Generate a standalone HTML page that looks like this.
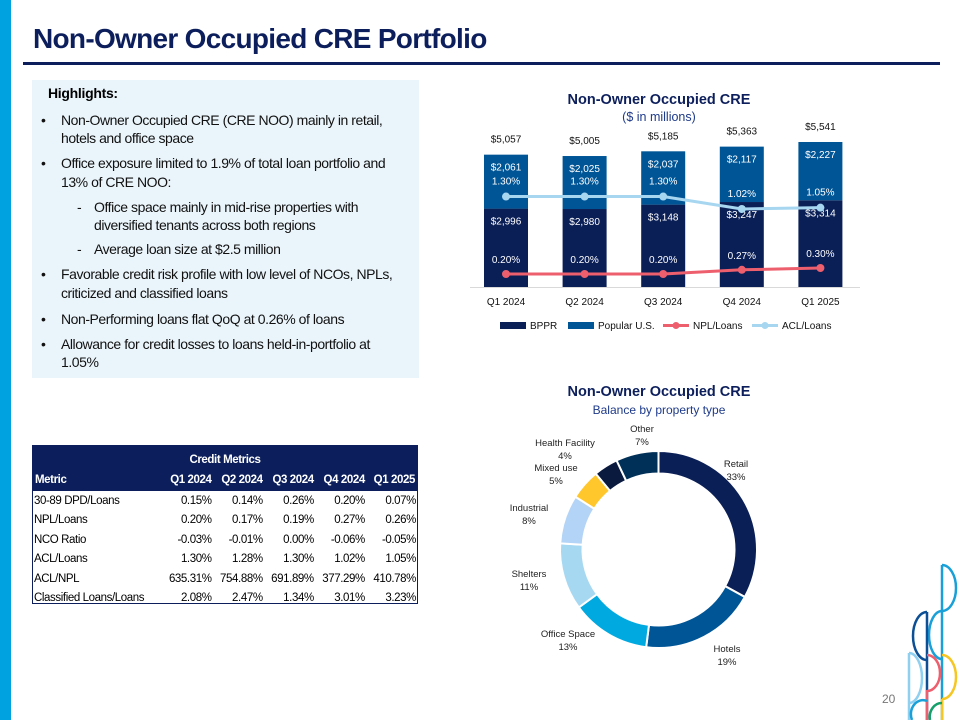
<!DOCTYPE html>
<html><head><meta charset="utf-8">
<style>
*{margin:0;padding:0;box-sizing:border-box}
body{width:960px;height:720px;position:relative;background:#fff;font-family:"Liberation Sans",sans-serif;overflow:hidden}
.abs{position:absolute;white-space:nowrap}
.hl{font-size:14px;letter-spacing:-0.45px;color:#111}
table{border-collapse:collapse}
td{padding:0 1px}
</style></head><body>
<div class="abs" style="left:0;top:0;width:11px;height:720px;background:#00a3e0"></div>
<div class="abs" style="left:33px;top:23px;font-size:28px;font-weight:bold;color:#0c1f5c;letter-spacing:-0.7px">Non-Owner Occupied CRE Portfolio</div>
<div class="abs" style="left:23px;top:62px;width:917px;height:3px;background:#0c1f5c"></div>

<div class="abs" style="left:32px;top:80px;width:387px;height:298px;background:#eaf5fb"></div>
<div class="abs" style="left:48px;top:85px;font-size:14px;font-weight:bold;letter-spacing:-0.3px">Highlights:</div>
<div>
<div class="abs hl" style="left:41px;top:112px">•</div>
<div class="abs hl" style="left:61px;top:112px">Non-Owner Occupied CRE (CRE NOO) mainly in retail,</div>
<div class="abs hl" style="left:61px;top:130px">hotels and office space</div>
<div class="abs hl" style="left:41px;top:155px">•</div>
<div class="abs hl" style="left:61px;top:155px">Office exposure limited to 1.9% of total loan portfolio and</div>
<div class="abs hl" style="left:61px;top:174px">13% of CRE NOO:</div>
<div class="abs hl" style="left:77px;top:199px">-</div>
<div class="abs hl" style="left:94px;top:199px">Office space mainly in mid-rise properties with</div>
<div class="abs hl" style="left:94px;top:217px">diversified tenants across both regions</div>
<div class="abs hl" style="left:77px;top:241px">-</div>
<div class="abs hl" style="left:94px;top:241px">Average loan size at $2.5 million</div>
<div class="abs hl" style="left:41px;top:266px">•</div>
<div class="abs hl" style="left:61px;top:266px">Favorable credit risk profile with low level of NCOs, NPLs,</div>
<div class="abs hl" style="left:61px;top:285px">criticized and classified loans</div>
<div class="abs hl" style="left:41px;top:311px">•</div>
<div class="abs hl" style="left:61px;top:311px">Non-Performing loans flat QoQ at 0.26% of loans</div>
<div class="abs hl" style="left:41px;top:336px">•</div>
<div class="abs hl" style="left:61px;top:336px">Allowance for credit losses to loans held-in-portfolio at</div>
<div class="abs hl" style="left:61px;top:354px">1.05%</div>
</div>

<svg class="abs" style="left:0;top:0" width="960" height="720" id="barsvg"></svg>
<svg class="abs" style="left:0;top:0" width="960" height="720" id="donutsvg"></svg>

<div class="abs" style="left:32px;top:445px;width:386px;height:159px;border:1px solid #0c1f5c">
<table style="width:384px;font-size:11.5px;letter-spacing:-0.4px">
<tr style="background:#0c1f5c;color:#fff;font-weight:bold;height:23px"><td colspan="6" style="text-align:center;padding-top:4px">Credit Metrics</td></tr>
<tr style="background:#0c1f5c;color:#fff;font-weight:bold;height:22px"><td style="padding-left:2px">Metric</td><td align="right">Q1 2024</td><td align="right">Q2 2024</td><td align="right">Q3 2024</td><td align="right">Q4 2024</td><td align="right" style="padding-right:2px">Q1 2025</td></tr>
<tr style="height:19.5px"><td>30-89 DPD/Loans</td><td align="right">0.15%</td><td align="right">0.14%</td><td align="right">0.26%</td><td align="right">0.20%</td><td align="right">0.07%</td></tr>
<tr style="height:19.5px"><td>NPL/Loans</td><td align="right">0.20%</td><td align="right">0.17%</td><td align="right">0.19%</td><td align="right">0.27%</td><td align="right">0.26%</td></tr>
<tr style="height:19.5px"><td>NCO Ratio</td><td align="right">-0.03%</td><td align="right">-0.01%</td><td align="right">0.00%</td><td align="right">-0.06%</td><td align="right">-0.05%</td></tr>
<tr style="height:19.5px"><td>ACL/Loans</td><td align="right">1.30%</td><td align="right">1.28%</td><td align="right">1.30%</td><td align="right">1.02%</td><td align="right">1.05%</td></tr>
<tr style="height:19.5px"><td>ACL/NPL</td><td align="right">635.31%</td><td align="right">754.88%</td><td align="right">691.89%</td><td align="right">377.29%</td><td align="right">410.78%</td></tr>
<tr style="height:19.5px"><td>Classified Loans/Loans</td><td align="right">2.08%</td><td align="right">2.47%</td><td align="right">1.34%</td><td align="right">3.01%</td><td align="right">3.23%</td></tr>
</table></div>

<svg class="abs" style="left:0;top:0" width="960" height="720" fill="none" stroke-width="2.5">
<path d="M942 565 V720" stroke="#1aa0d8"/>
<path d="M942 565 A14 23 0 0 1 942 611" stroke="#1aa0d8"/>
<path d="M942 611 A13 24 0 0 0 942 659" stroke="#1aa0d8"/>
<path d="M927 612 V720" stroke="#0d4f95"/>
<path d="M927 612 A14 24 0 0 0 927 660" stroke="#0d4f95"/>
<path d="M927 655 A13 18 0 0 1 927 691" stroke="#ee5f6e"/>
<path d="M927 690 V720" stroke="#ee5f6e"/>
<path d="M909 653 V720" stroke="#8fcff0"/>
<path d="M909 653 A13 25 0 0 1 909 703" stroke="#8fcff0"/>
<path d="M942 655 A14 22 0 0 1 942 699" stroke="#f6c623"/>
<path d="M942 699 V720" stroke="#f6c623"/>
<path d="M912 720 A12 14 0 0 1 927 701" stroke="#1aa0d8"/>
<path d="M930 720 A12 14 0 0 1 942 703" stroke="#14a06a"/>
</svg>
<div class="abs" style="left:882px;top:692px;font-size:12px;color:#777">20</div>

<script>
const quarters=["Q1 2024","Q2 2024","Q3 2024","Q4 2024","Q1 2025"];
const bppr=[2996,2980,3148,3247,3314];
const popularUS=[2061,2025,2037,2117,2227];
const totals=["$5,057","$5,005","$5,185","$5,363","$5,541"];
const nplLoans=[0.20,0.20,0.20,0.27,0.30];
const aclLoans=[1.30,1.30,1.30,1.02,1.05];

const NS="http://www.w3.org/2000/svg";
function mk(svg,tag,attrs,text){const e=document.createElementNS(NS,tag);for(const k in attrs)e.setAttribute(k,attrs[k]);if(text!==undefined)e.textContent=text;svg.appendChild(e);return e;}
const bs=document.getElementById('barsvg');
const base=287, pxPer=0.02617;
const xC=i=>506+i*78.6;
const yV=v=>base-v*pxPer;
const yAcl=v=>254.5-v*44.6;
const yNpl=v=>286-v*60;
const fmt=v=>"$"+v.toLocaleString("en-US");
let t;
t=mk(bs,'text',{x:659,y:104,'text-anchor':'middle','font-size':14.5,'font-weight':'bold',fill:'#0c1f5c'},'Non-Owner Occupied CRE');


t=mk(bs,'text',{x:659,y:121,'text-anchor':'middle','font-size':12.5,fill:'#1e3a8a'},'($ in millions)');


mk(bs,'line',{x1:470,x2:860,y1:base+0.5,y2:base+0.5,stroke:'#d9d9d9','stroke-width':1});
quarters.forEach((q,i)=>{
  const x=xC(i)-22;
  const yb=yV(bppr[i]), yp=yV(bppr[i]+popularUS[i]);
  let r=mk(bs,'rect',{x:x,y:yb,width:44,height:base-yb,fill:'#0b1f57'});
  
  
  r=mk(bs,'rect',{x:x,y:yp,width:44,height:yb-yp,fill:'#005596'});
  
  
  mk(bs,'text',{x:xC(i),y:yb+16,'text-anchor':'middle','font-size':10,fill:'#fff'},fmt(bppr[i]));
  mk(bs,'text',{x:xC(i),y:yp+16,'text-anchor':'middle','font-size':10,fill:'#fff'},fmt(popularUS[i]));
  mk(bs,'text',{x:xC(i),y:yp-12,'text-anchor':'middle','font-size':10,fill:'#111'},totals[i]);
  mk(bs,'text',{x:xC(i),y:base+18,'text-anchor':'middle','font-size':10,fill:'#111'},q);
});
function line(arr,yf,col,nm,dy){
  const pts=arr.map((v,i)=>xC(i)+','+yf(v)).join(' ');
  const p=mk(bs,'polyline',{points:pts,fill:'none',stroke:col,'stroke-width':3});
  
  
  arr.forEach((v,i)=>{
    const c=mk(bs,'circle',{cx:xC(i),cy:yf(v),r:4,fill:col});
    
    
    mk(bs,'text',{x:xC(i),y:yf(v)-dy,'text-anchor':'middle','font-size':10,fill:'#fff'},v.toFixed(2)+'%');
  });
}
line(aclLoans,yAcl,'#a6d6f0','acl-loans-line',12);
line(nplLoans,yNpl,'#ee5f6e','npl-loans-line',11);
const leg=[['BPPR','#0b1f57','rect',500],['Popular U.S.','#005596','rect',568],['NPL/Loans','#ee5f6e','line',663],['ACL/Loans','#a6d6f0','line',752]];
leg.forEach(l=>{
  const g=mk(bs,'g',{});
  
  
  if(l[2]==='rect'){mk(g,'rect',{x:l[3],y:322,width:26,height:7,fill:l[1]});mk(g,'text',{x:l[3]+30,y:329,'font-size':10,fill:'#111'},l[0]);}
  else{mk(g,'line',{x1:l[3],x2:l[3]+26,y1:325.5,y2:325.5,stroke:l[1],'stroke-width':3});mk(g,'circle',{cx:l[3]+13,cy:325.5,r:3.5,fill:l[1]});mk(g,'text',{x:l[3]+30,y:329,'font-size':10,fill:'#111'},l[0]);}
});

// donut
const segNames=["Retail","Hotels","Office Space","Shelters","Industrial","Mixed use","Health Facility","Other"];
const segValues=[33,19,13,11,8,5,4,7];
const segColors=["#0b1f57","#005596","#00a9e0","#a7d8f2","#b3d4f6","#ffc72c","#0a1a3f","#003057"];
const ds=document.getElementById('donutsvg');
t=mk(ds,'text',{x:659,y:396,'text-anchor':'middle','font-size':14.5,'font-weight':'bold',fill:'#0c1f5c'},'Non-Owner Occupied CRE');


t=mk(ds,'text',{x:659,y:414,'text-anchor':'middle','font-size':12,fill:'#1e3a8a'},'Balance by property type');


const cx=658.5,cy=549.5,R=98.5,r0=76;
const total=segValues.reduce((a,b)=>a+b,0);
const labelPos=[[736,467],[727,652],[568,637],[529,577],[529,511],[556,471],[565,446],[642,432]];
let acc=0;
segValues.forEach((v,i)=>{
  const a0=acc/total*2*Math.PI, a1=(acc+v)/total*2*Math.PI; acc+=v;
  const P=(a,rr)=>[cx+rr*Math.sin(a),cy-rr*Math.cos(a)];
  const [x1,y1]=P(a0,R),[x2,y2]=P(a1,R),[x3,y3]=P(a1,r0),[x4,y4]=P(a0,r0);
  const lg=(a1-a0)>Math.PI?1:0;
  const p=mk(ds,'path',{d:`M${x1},${y1} A${R},${R} 0 ${lg} 1 ${x2},${y2} L${x3},${y3} A${r0},${r0} 0 ${lg} 0 ${x4},${y4} Z`,fill:segColors[i],stroke:'#fff','stroke-width':2});
  
  
  const g=mk(ds,'g',{});
  
  
  mk(g,'text',{x:labelPos[i][0],y:labelPos[i][1],'text-anchor':'middle','font-size':9.5,fill:'#222'},segNames[i]);
  mk(g,'text',{x:labelPos[i][0],y:labelPos[i][1]+13,'text-anchor':'middle','font-size':9.5,fill:'#222'},v+'%');
});
</script>
</body></html>
